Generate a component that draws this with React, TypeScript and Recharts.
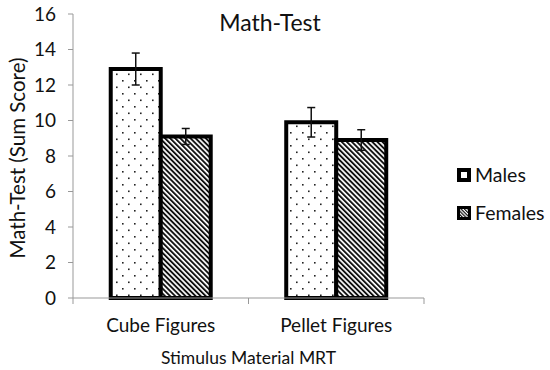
import React from 'react';
import { BarChart, Bar, XAxis, YAxis, ErrorBar, Label } from 'recharts';

const categories = ['Cube Figures', 'Pellet Figures'];
const malesValues = [12.9, 9.9];
const malesErrors = [0.9, 0.83];
const femalesValues = [9.1, 8.9];
const femalesErrors = [0.45, 0.58];
const yTicks = [0, 2, 4, 6, 8, 10, 12, 14, 16];
const seriesNames = ['Males', 'Females'];

const data = categories.map((c, i) => ({
  category: c,
  males: malesValues[i],
  malesErr: malesErrors[i],
  females: femalesValues[i],
  femalesErr: femalesErrors[i],
}));

const FONT = 'Lato, "Open Sans", sans-serif';

const CatTick = (props: any) => {
  const { x, y, payload } = props;
  const off = payload.offset || 0;
  return (
    <g>
      <line x1={x - off} x2={x - off} y1={y - 8} y2={y - 2} stroke="#999" strokeWidth={1} />
      <line x1={x + off} x2={x + off} y1={y - 8} y2={y - 2} stroke="#999" strokeWidth={1} />
      <text x={x} y={y + 26} textAnchor="middle" fontSize={19} fontFamily={FONT} fill="#111">
        {payload.value}
      </text>
    </g>
  );
};

export default function App() {
  return (
    <div style={{ position: 'absolute', left: 0, top: 0, width: 550, height: 370, background: '#fff' }}>
      <BarChart
        width={550}
        height={370}
        data={data}
        margin={{ top: 14, right: 126, bottom: 22, left: 23 }}
        barCategoryGap="21.5%"
        barGap={0}
      >
        <defs>
          <pattern id="dots" width="12" height="13" patternUnits="userSpaceOnUse">
            <rect width="12" height="13" fill="#fff" />
            <rect x="2" y="2" width="1.6" height="1.6" fill="#222" />
            <rect x="8" y="8.5" width="1.6" height="1.6" fill="#222" />
          </pattern>
          <pattern id="stripes" width="3.6" height="3.6" patternUnits="userSpaceOnUse" patternTransform="rotate(-45)">
            <rect width="3.6" height="3.6" fill="#fff" />
            <rect x="0" y="0" width="1.9" height="3.6" fill="#111" />
          </pattern>
          <pattern id="stripesSmall" width="2.4" height="2.4" patternUnits="userSpaceOnUse" patternTransform="rotate(-45)">
            <rect width="2.4" height="2.4" fill="#fff" />
            <rect x="0" y="0" width="1.2" height="2.4" fill="#111" />
          </pattern>
        </defs>
        <XAxis
          dataKey="category"
          height={50}
          stroke="#999"
          tickLine={false}
          tick={<CatTick />}
          interval={0}
        >
          <Label
            content={(p: any) => {
              const vb = p.viewBox;
              return (
                <text x={vb.x + vb.width / 2} y={364} textAnchor="middle" fontSize={17.5} fontFamily={FONT} fill="#111">
                  Stimulus Material MRT
                </text>
              );
            }}
          />
        </XAxis>
        <YAxis
          width={50}
          domain={[0, 16]}
          ticks={yTicks}
          interval={0}
          stroke="#999"
          tickSize={5}
          tick={{ fontSize: 19, fontFamily: FONT, fill: '#111' }}
          tickMargin={12}
        >
          <Label
            content={(p: any) => {
              const vb = p.viewBox;
              const cy = vb.y + vb.height / 2 + 2;
              return (
                <text x={25} y={cy} transform={`rotate(-90, 25, ${cy})`} textAnchor="middle" fontSize={20.5} fontFamily={FONT} fill="#111">
                  Math-Test (Sum Score)
                </text>
              );
            }}
          />
        </YAxis>
        <Bar dataKey="males" name={seriesNames[0]} fill="url(#dots)" stroke="#000" strokeWidth={4} isAnimationActive={false}>
          <ErrorBar dataKey="malesErr" width={4} stroke="#111" strokeWidth={1.5} direction="y" />
        </Bar>
        <Bar dataKey="females" name={seriesNames[1]} fill="url(#stripes)" stroke="#000" strokeWidth={4} isAnimationActive={false}>
          <ErrorBar dataKey="femalesErr" width={4} stroke="#111" strokeWidth={1.5} direction="y" />
        </Bar>
        <text x={270} y={31} textAnchor="middle" fontSize={23} fontFamily={FONT} fill="#111">
          Math-Test
        </text>
        <g>
          <rect x={457} y={168} width={14} height={14} fill="#000" />
          <rect x={461} y={172} width={6} height={6} fill="#fff" />
          <text x={475} y={182} fontSize={19.5} fontFamily={FONT} fill="#111">{seriesNames[0]}</text>
          <rect x={457} y={206} width={14} height={14} fill="#000" />
          <rect x={460} y={209} width={8} height={8} fill="url(#stripesSmall)" />
          <text x={475} y={220} fontSize={19.5} fontFamily={FONT} fill="#111">{seriesNames[1]}</text>
        </g>
      </BarChart>
    </div>
  );
}
